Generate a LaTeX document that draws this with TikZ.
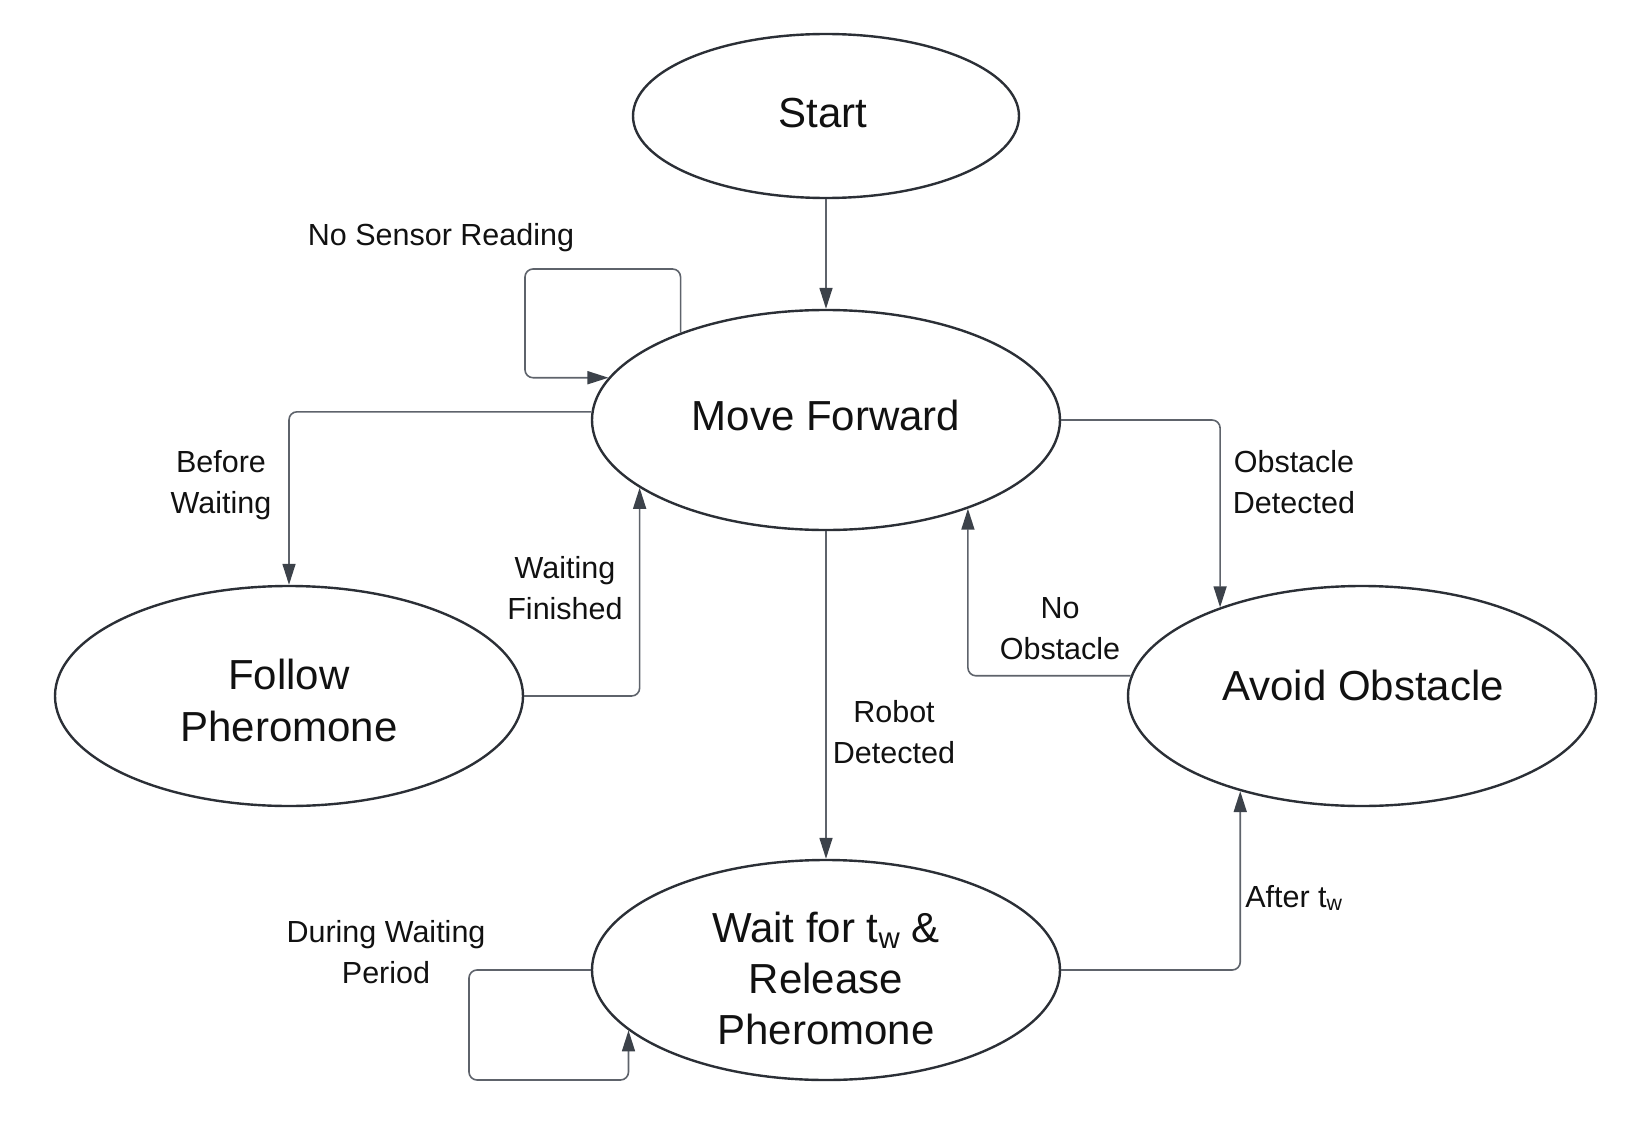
\documentclass[tikz,border=0pt]{standalone}
\usepackage{fontspec}
\setmainfont{Liberation Sans}
\usetikzlibrary{arrows.meta,shapes.geometric}
\definecolor{edgec}{HTML}{2B2F36}
\definecolor{linec}{HTML}{5E636B}
\definecolor{tipc}{HTML}{3C424A}
\definecolor{txtc}{HTML}{111111}
\tikzset{
  state/.style={ellipse, draw=edgec, line width=2.4pt, inner sep=0pt,
    minimum width=468pt, minimum height=220pt, align=center, text=txtc,
    font=\fontsize{42}{52}\selectfont},
  conn/.style={draw=linec, line width=1.6pt, rounded corners=8pt,
    -{Triangle[length=21pt,width=13pt,color=tipc]}},
  lbl/.style={align=center, text=txtc, inner sep=0pt,
    font=\fontsize{30.5}{41}\selectfont}
}
\begin{document}
\begin{tikzpicture}[x=1pt,y=-1pt]
\useasboundingbox (0,0) rectangle (1650,1148);
% states
\node[state, minimum width=386pt, minimum height=164pt] (start) at (826,116) {};
\node[text=txtc, font=\fontsize{42}{52}\selectfont] (startt) at (823,113) {Start};
\node[state] (move) at (826,420) {};
\node[text=txtc, font=\fontsize{42}{52}\selectfont] (movet) at (826,415) {Move Forward};
\node[state] (follow) at (289,696) {};
\node[text=txtc, align=center, font=\fontsize{42}{52}\selectfont] (followt) at (289,700) {Follow\\Pheromone};
\node[state] (avoid) at (1362,696) {};
\node[text=txtc, font=\fontsize{42}{52}\selectfont] (avoidt) at (1363,685) {Avoid Obstacle};
\node[state] (wait) at (826,970) {};
\node[text=txtc, align=center, font=\fontsize{42}{51}\selectfont] (waitt) at (826,978) {Wait for t\textsubscript{w} \&\\Release\\Pheromone};
% helper coordinates
\coordinate (loopA) at (525,269);
\coordinate (loopB) at (469,1080);
% connectors
\draw[conn] (start.south) -- (move.north);
\draw[conn] (move.149.4) |- (loopA) |- (move.169.0);
\draw[conn] (move.178) -| (follow.north);
\draw[conn] (follow.east) -| (move.200);
\draw[conn] (move.east) -| (avoid.148.4);
\draw[conn] (avoid.175.2) -| (move.328.4);
\draw[conn] (move.south) -- (wait.north);
\draw[conn] (wait.east) -| (avoid.218.6);
\draw[conn] (wait.west) -| (loopB) -| (wait.197.6);
% labels
\node[lbl] (l1) at (441,238) {No Sensor Reading};
\node[lbl] (l2) at (221,485) {Before\\Waiting};
\node[lbl] (l3) at (565,588) {Waiting\\Finished};
\node[lbl] (l4) at (1294,482) {Obstacle\\Detected};
\node[lbl] (l5) at (1060,629) {No\\Obstacle};
\node[lbl] (l6) at (894,732) {Robot\\Detected};
\node[lbl] (l7) at (1294,898) {After t\textsubscript{w}};
\node[lbl] (l8) at (386,952) {During Waiting\\Period};
\end{tikzpicture}
\end{document}
